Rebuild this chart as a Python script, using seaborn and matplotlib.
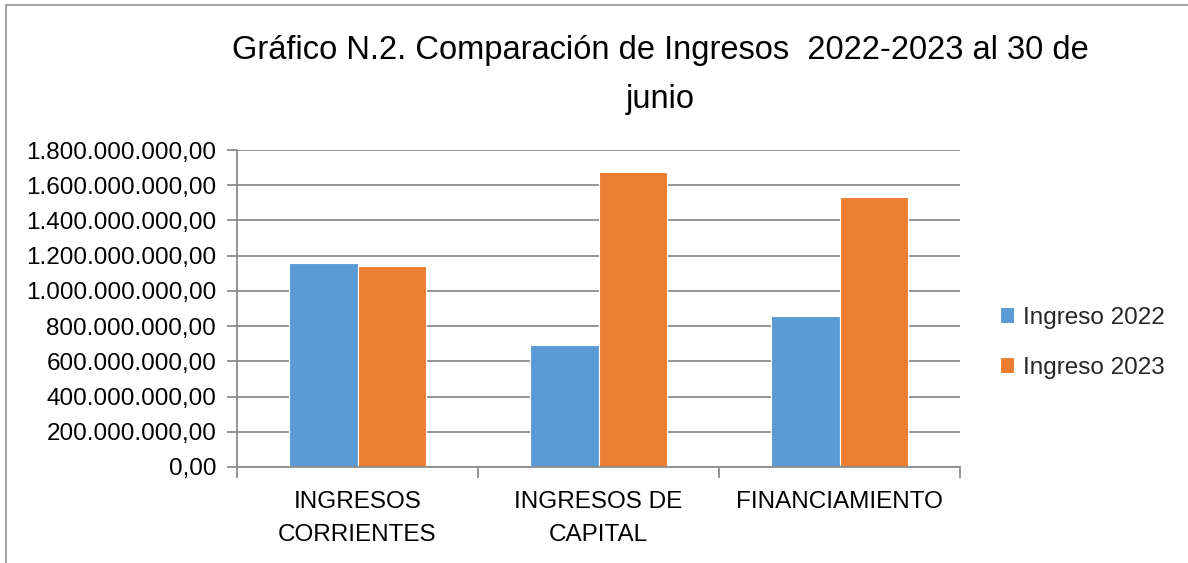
import matplotlib
matplotlib.use("Agg")
import matplotlib.pyplot as plt
import seaborn as sns
import pandas as pd
from matplotlib.ticker import FuncFormatter, FixedLocator
from matplotlib.lines import Line2D

categories = ["INGRESOS\nCORRIENTES", "INGRESOS DE\nCAPITAL", "FINANCIAMIENTO"]
series_names = ["Ingreso 2022", "Ingreso 2023"]
ingreso_2022 = [1160000000, 690000000, 860000000]
ingreso_2023 = [1141000000, 1675000000, 1533000000]
title = "Gráfico N.2. Comparación de Ingresos  2022-2023 al 30 de\njunio"
colors = ["#5B9BD5", "#ED7D31"]

df = pd.DataFrame({
    "cat": categories * 2,
    "serie": [series_names[0]] * 3 + [series_names[1]] * 3,
    "valor": ingreso_2022 + ingreso_2023,
})

sns.set_theme(style="white")
plt.rcParams['font.family'] = ['Liberation Sans', 'DejaVu Sans']

fig = plt.figure(figsize=(11.88, 5.63), dpi=100)
ax = fig.add_axes([237/1188, 1-467/563, (960-237)/1188, (467-150)/563])

sns.barplot(data=df, x="cat", y="valor", hue="serie", palette=colors,
            width=0.57, ax=ax, edgecolor="white", linewidth=0.8, saturation=1)

ax.set_xlim(-0.5, 2.5)
ax.set_ylim(0, 1800000000)
ax.set_yticks([i * 200000000 for i in range(10)])
ax.yaxis.grid(True, color="#8C8C8C", linewidth=1.3)
ax.set_axisbelow(True)

def fmt(v, pos):
    s = f"{int(round(v)):,}".replace(",", ".")
    return s + ",00"
ax.yaxis.set_major_formatter(FuncFormatter(fmt))

for s in ["top", "right"]:
    ax.spines[s].set_visible(False)
for s in ["left", "bottom"]:
    ax.spines[s].set_color("#8C8C8C")
    ax.spines[s].set_linewidth(1.3)

ax.tick_params(axis="y", which="major", left=True, length=7, width=1.3, color="#8C8C8C",
               labelsize=17.5, pad=8, labelcolor="black")
ax.tick_params(axis="x", which="major", bottom=False, labelsize=17.5, pad=11, labelcolor="black")
ax.xaxis.set_minor_locator(FixedLocator([-0.5, 0.5, 1.5, 2.5]))
ax.tick_params(axis="x", which="minor", bottom=True, length=8, width=1.3, color="#8C8C8C")
for lbl in ax.get_xticklabels():
    lbl.set_linespacing(1.65)

ax.set_xlabel("")
ax.set_ylabel("")

leg = ax.legend(loc="center left", bbox_to_anchor=(1.055, 0.392), frameon=False,
                fontsize=17.5, handlelength=0.6, handleheight=0.6, handletextpad=0.35,
                labelspacing=1.15, borderaxespad=0, borderpad=0)

fig.text(660/1188, 1-75/563, title, ha="center", va="center", fontsize=23.5,
         linespacing=1.75, color="black")

fig.add_artist(Line2D([6/1188, 1], [1-5/563, 1-5/563], color="#A6A6A6", linewidth=1.5,
                      transform=fig.transFigure))
fig.add_artist(Line2D([6/1188, 6/1188], [0, 1-5/563], color="#A6A6A6", linewidth=1.5,
                      transform=fig.transFigure))

fig.savefig("out.png", dpi=100, facecolor="white")
